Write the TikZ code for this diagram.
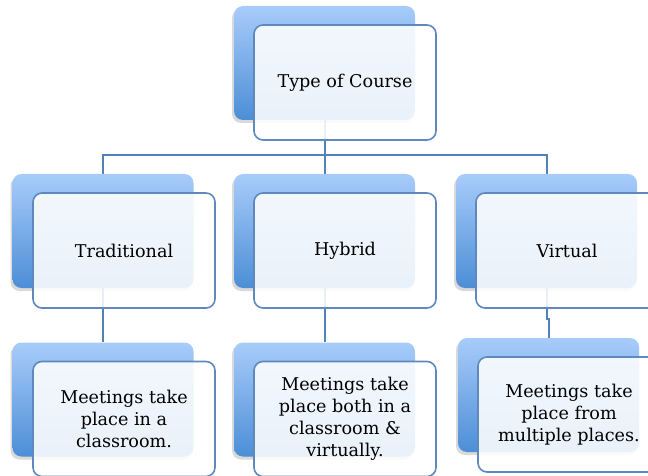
\documentclass[tikz,border=0pt]{standalone}
\usepackage{fontspec}
\setmainfont{DejaVu Serif}
\usepackage{xcolor}
\usepackage{tikz}
\usetikzlibrary{shadows,backgrounds}

\definecolor{boxtop}{RGB}{168,204,250}
\definecolor{boxbot}{RGB}{76,142,214}
\definecolor{cardedge}{RGB}{94,137,190}
\definecolor{linkblue}{RGB}{84,128,184}

\begin{document}
\begin{tikzpicture}[x=1pt, y=-1pt,
    back/.style={rectangle, rounded corners=9pt, minimum width=181pt, minimum height=114pt, top color=boxtop, bottom color=boxbot, drop shadow={shadow xshift=-2pt, shadow yshift=-3pt, opacity=0.25, fill=black!60}},
    card/.style={rectangle, rounded corners=9pt, draw=cardedge, line width=1.6pt, fill=white, fill opacity=0.88, text opacity=1, minimum width=182pt, minimum height=115pt, align=center, font=\fontsize{17.6}{22}\selectfont},
    link/.style={draw=linkblue, line width=2pt}]

    \useasboundingbox (0,0) rectangle (648,476);
    \clip (0,0) rectangle (648,476);

    \node[back] (typeb) at (324.5,63) {};
    \node[card] (type) at (345,82.5) {Type of Course};

    \node[back] (tradb) at (103,231) {};
    \node[card] (trad) at (124,250.5) {Traditional};
    \node[back] (hybb) at (324.5,231) {};
    \node[card] (hyb) at (345,250.5) {Hybrid};
    \node[back] (virtb) at (546.5,231) {};
    \node[card] (virt) at (567,250.5) {Virtual};

    \node[back] (classb) at (103,399.5) {};
    \node[card] (class) at (124,419) {Meetings take\\place in a\\classroom.};
    \node[back] (bothb) at (324.5,399.5) {};
    \node[card] (both) at (345,419) {Meetings take\\place both in a\\classroom \&\\virtually.};
    \node[back] (multib) at (548.5,395) {};
    \node[card] (multi) at (569,414.5) {Meetings take\\place from\\multiple places.};

    \begin{scope}[on background layer]
    \draw[link] (typeb.south) -- ++(0,35) -| (tradb.north);
    \draw[link] (typeb.south) -- ++(0,35) -| (virtb.north);
    \draw[link] (typeb.south) -- (hybb.north);
    \draw[link] (tradb.south) -- (classb.north);
    \draw[link] (hybb.south) -- (bothb.north);
    \draw[link] (virtb.south) -- ++(0,31) -| (multib.north);
    \end{scope}

\end{tikzpicture}
\end{document}
